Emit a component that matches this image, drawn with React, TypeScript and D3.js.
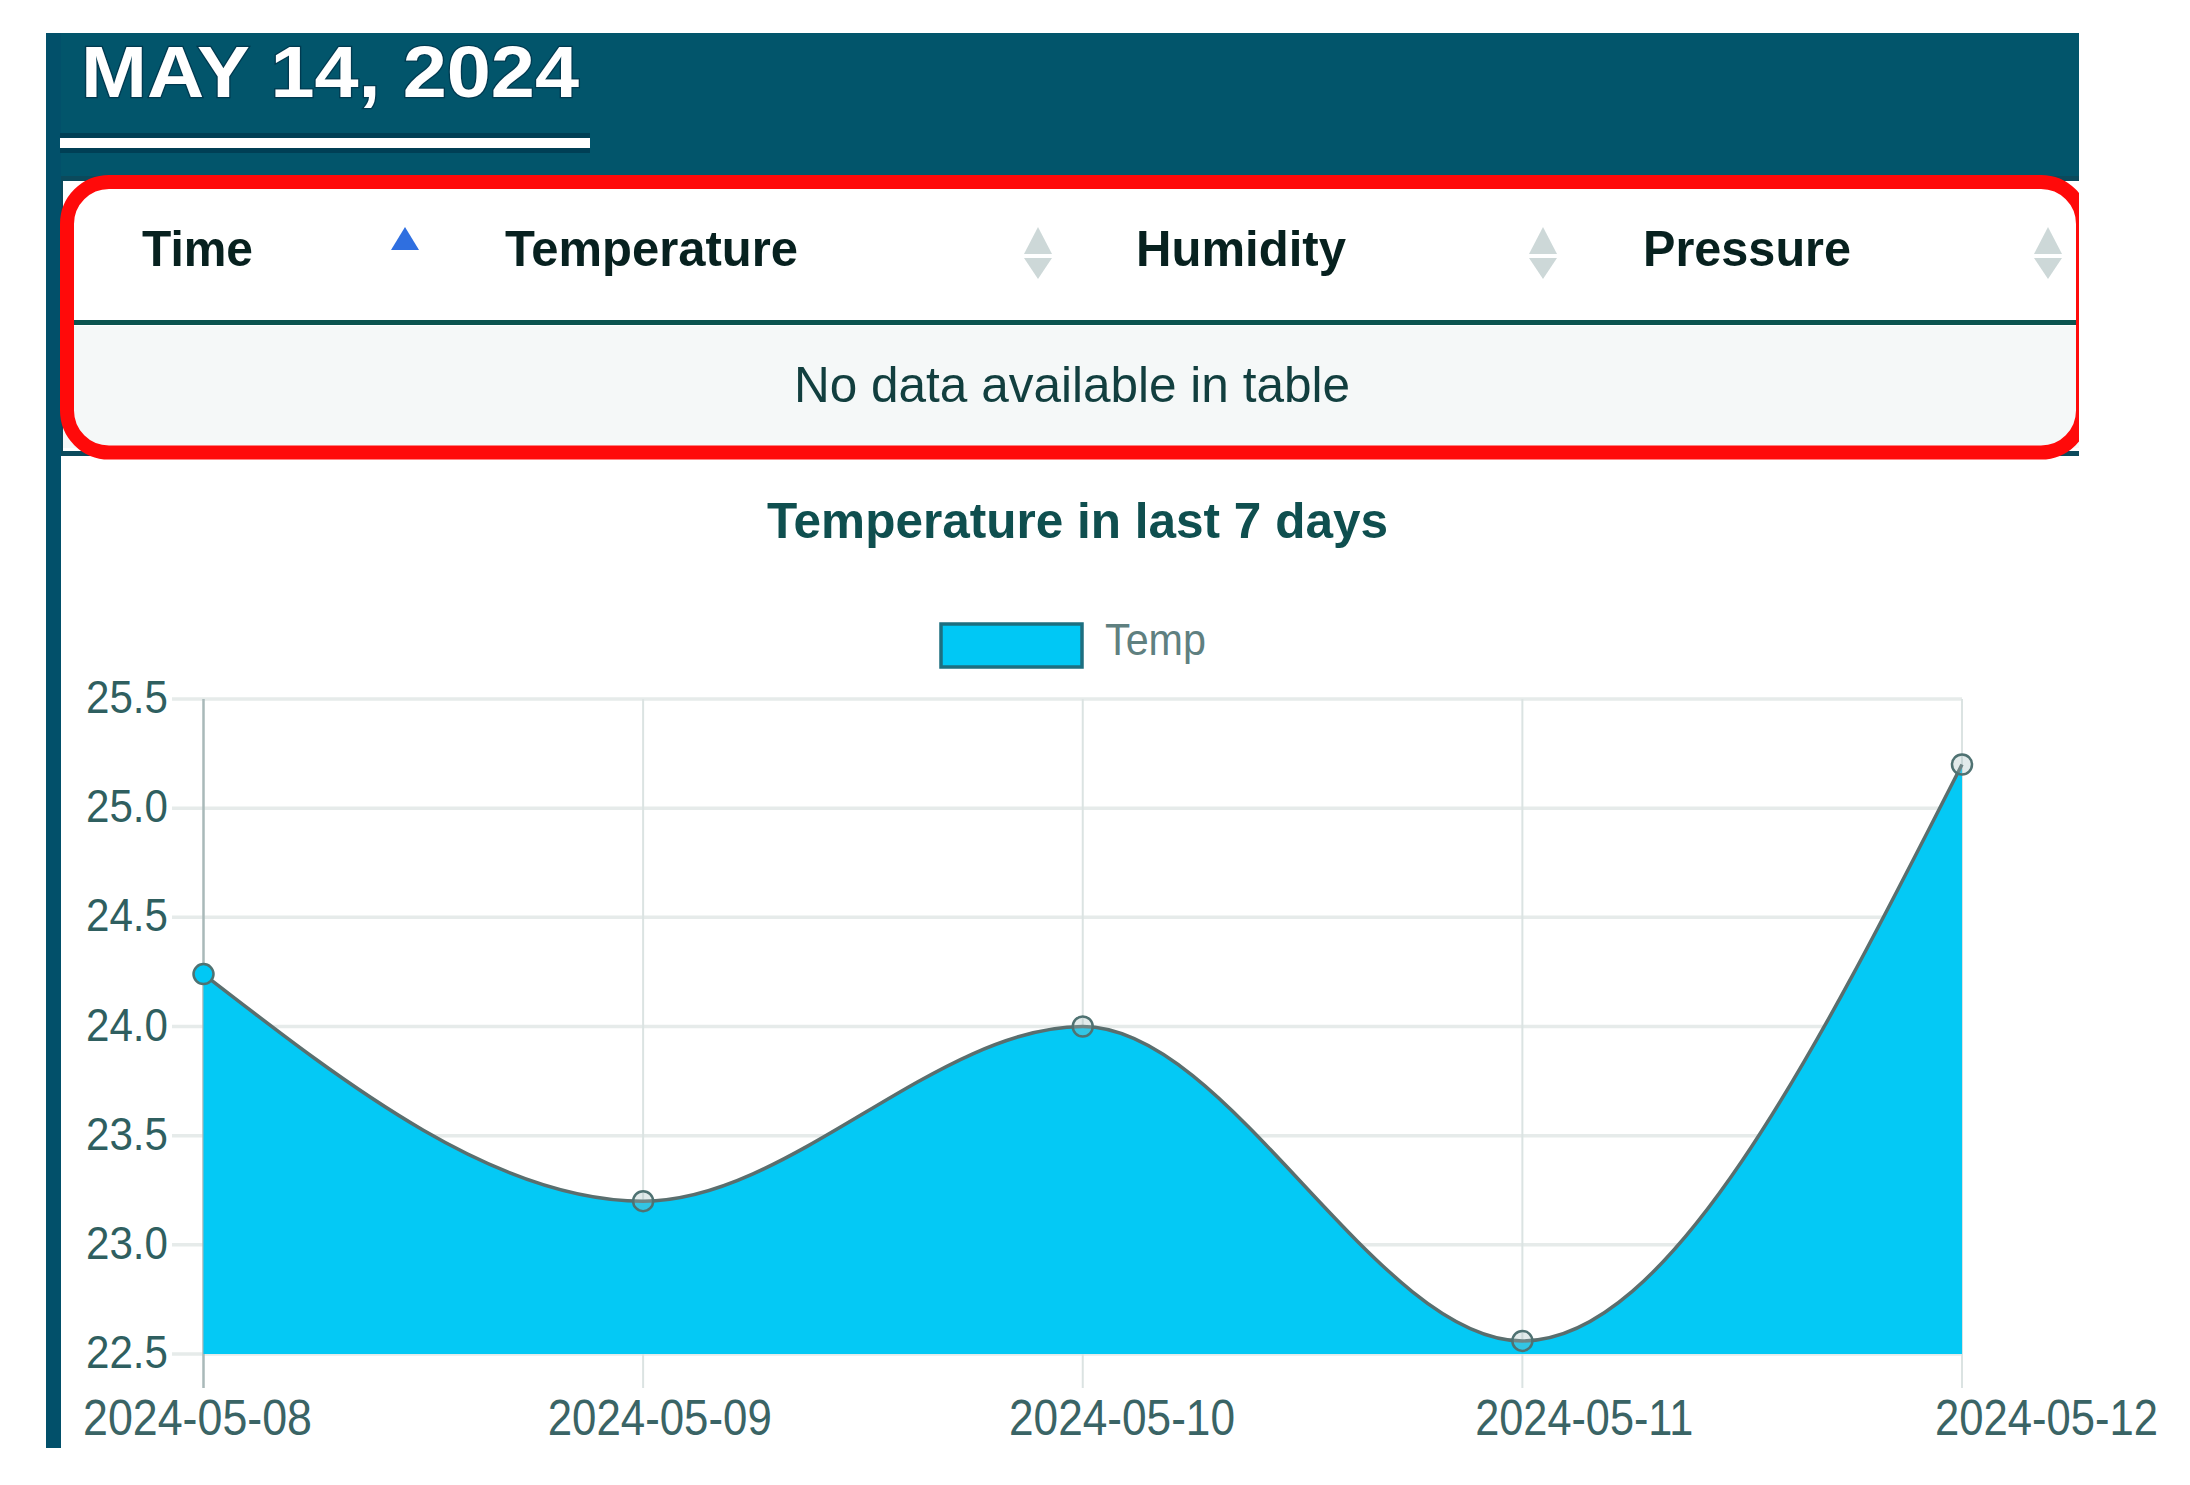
import React from "react";
import * as d3 from "d3";

const dates = ["2024-05-08", "2024-05-09", "2024-05-10", "2024-05-11", "2024-05-12"];
const temps = [24.24, 23.2, 24.0, 22.56, 25.2];
const yTicks = [22.5, 23.0, 23.5, 24.0, 24.5, 25.0, 25.5];
const seriesName = "Temp";
const chartTitle = "Temperature in last 7 days";
const headerDate = "MAY 14, 2024";
const columns = ["Time", "Temperature", "Humidity", "Pressure"];
const emptyMessage = "No data available in table";

const W = 2190;
const H = 1485;
const FONT = "'Liberation Sans', Arial, sans-serif";
const TEAL = "#02556b";
const CYAN = "#00c8f5";

const columnBoxes = [
  { x: 142, w: 111 },
  { x: 505, w: 293 },
  { x: 1136, w: 210 },
  { x: 1643, w: 208 },
];
const sortIconX = [405, 1038, 1543, 2048];
const labelWidths = [229, 224, 226, 218, 223];

export default function App() {
  const x = d3.scalePoint<string>().domain(dates).range([203.5, 1962]);
  const y = d3.scaleLinear().domain([22.5, 25.5]).range([1354, 699]);
  const labelX = d3.scalePoint<string>().domain(dates).range([197.5, 2046.5]);
  const curve = d3.curveMonotoneX;
  const pts = dates.map((d, i) => ({ d, v: temps[i] }));
  const line = d3.line<typeof pts[0]>().x((p) => x(p.d)!).y((p) => y(p.v)).curve(curve);
  const area = d3
    .area<typeof pts[0]>()
    .x((p) => x(p.d)!)
    .y0(y(22.5))
    .y1((p) => y(p.v))
    .curve(curve);

  return (
    <svg
      width={W}
      height={H}
      viewBox={`0 0 ${W} ${H}`}
      style={{ position: "absolute", left: 0, top: 0, display: "block", background: "#fff" }}
      fontFamily={FONT}
    >
      <defs>
        <clipPath id="pageClip">
          <rect x={0} y={0} width={2079} height={H} />
        </clipPath>
      </defs>

      {/* dark header & left rail */}
      <rect x={46} y={33} width={2033} height={145} fill={TEAL} />
      <rect x={46} y={33} width={15} height={1415} fill="#02506a" />
      <rect x={60} y={133} width={530} height={20} fill="#003f55" />
      <rect x={60} y={138} width={530} height={10} fill="#fff" />
      <text
        x={81}
        y={97}
        fontSize={72}
        fontWeight={700}
        fill="#fff"
        stroke="#013a50"
        strokeWidth={2.5}
        paintOrder="stroke"
        textLength={498}
        lengthAdjust="spacingAndGlyphs"
      >
        {headerDate}
      </text>

      {/* table */}
      <rect x={61} y={176} width={2018} height={280} fill="#0b4a5c" />
      <rect x={63} y={181} width={2016} height={270} fill="#fff" />
      <rect x={63} y={326} width={2016} height={122} fill="#f5f8f8" />
      <rect x={74} y={320} width={2002} height={5} fill="#0b5450" />
      {columns.map((c, i) => (
        <text
          key={c}
          x={columnBoxes[i].x}
          y={266}
          fontSize={50}
          fontWeight={700}
          fill="#07211f"
          textLength={columnBoxes[i].w}
          lengthAdjust="spacingAndGlyphs"
        >
          {c}
        </text>
      ))}
      {sortIconX.map((cx, i) =>
        i === 0 ? (
          <path key={cx} d={`M${cx},227 L${cx + 14},250 L${cx - 14},250 Z`} fill="#2f6fe0" />
        ) : (
          <g key={cx} fill="#cdd8d8">
            <path d={`M${cx},227 L${cx + 14},254 L${cx - 14},254 Z`} />
            <path d={`M${cx - 14},258 L${cx + 14},258 L${cx},279 Z`} />
          </g>
        )
      )}
      <text
        x={794}
        y={402}
        fontSize={50}
        fill="#123f3f"
        textLength={556}
        lengthAdjust="spacingAndGlyphs"
      >
        {emptyMessage}
      </text>
      <g clipPath="url(#pageClip)">
        <rect x={67} y={182} width={2016} height={270.5} rx={42} ry={42} fill="none" stroke="#ff0a0a" strokeWidth={14} />
      </g>

      {/* chart title & legend */}
      <text
        x={767}
        y={538}
        fontSize={50}
        fontWeight={700}
        fill="#0f4f4f"
        textLength={621}
        lengthAdjust="spacingAndGlyphs"
      >
        {chartTitle}
      </text>
      <rect x={941} y={624} width={141} height={43} fill={CYAN} stroke="#1d6f80" strokeWidth={3.5} />
      <text x={1105} y={655} fontSize={44} fill="#5f8080" textLength={101} lengthAdjust="spacingAndGlyphs">
        {seriesName}
      </text>

      {/* grid */}
      {yTicks.map((t) => (
        <line key={t} x1={172} x2={1962} y1={y(t)} y2={y(t)} stroke="#e6ebea" strokeWidth={3.5} />
      ))}
      {dates.map((d, i) => (
        <line
          key={d}
          x1={x(d)}
          x2={x(d)}
          y1={699}
          y2={1388}
          stroke={i === 0 ? "#a9b9b9" : "#dbe3e2"}
          strokeWidth={i === 0 ? 2.5 : 2}
        />
      ))}

      {/* series */}
      <path d={area(pts)!} fill={CYAN} fillOpacity={0.985} />
      <path d={line(pts)!} fill="none" stroke="#5a6e6e" strokeWidth={3.5} />
      {pts.map((p, i) => (
        <circle
          key={p.d}
          cx={x(p.d)}
          cy={y(p.v)}
          r={10}
          fill={i === 0 ? CYAN : "#9fbcbc"}
          fillOpacity={i === 0 ? 1 : 0.3}
          stroke="#4f7272"
          strokeWidth={2.5}
        />
      ))}

      {/* axis labels */}
      {yTicks.map((t) => (
        <text
          key={t}
          x={127}
          y={y(t) + 14}
          fontSize={47}
          fill="#2f5f60"
          textAnchor="middle"
          textLength={82}
          lengthAdjust="spacingAndGlyphs"
        >
          {d3.format(".1f")(t)}
        </text>
      ))}
      {dates.map((d, i) => (
        <text
          key={d}
          x={labelX(d)}
          y={1435}
          fontSize={50}
          fill="#3a6465"
          textAnchor="middle"
          textLength={labelWidths[i]}
          lengthAdjust="spacingAndGlyphs"
        >
          {d}
        </text>
      ))}
    </svg>
  );
}
